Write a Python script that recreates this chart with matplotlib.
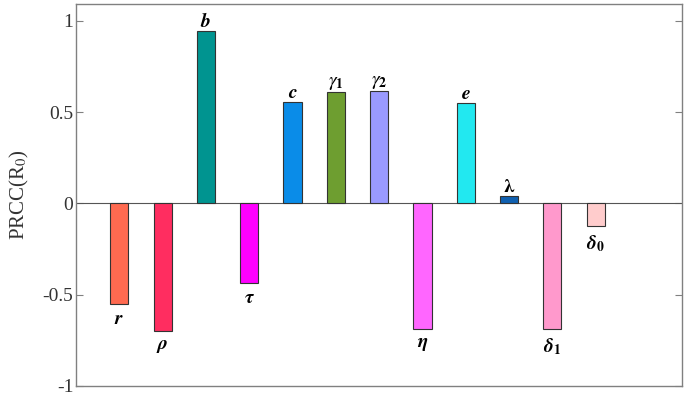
import matplotlib
matplotlib.use("Agg")
import matplotlib.pyplot as plt

plt.rcParams['font.family'] = ['Liberation Serif', 'DejaVu Serif']
plt.rcParams['mathtext.fontset'] = 'stix'
plt.rcParams['axes.unicode_minus'] = False

# PRCC values for each parameter
params = [r'$\boldsymbol{r}$', r'$\boldsymbol{\rho}$', r'$\boldsymbol{b}$', r'$\boldsymbol{\tau}$',
          r'$\boldsymbol{c}$', r'$\gamma_{\mathbf{1}}$', r'$\gamma_{\mathbf{2}}$', r'$\boldsymbol{\eta}$',
          r'$\boldsymbol{e}$', r'$\boldsymbol{\lambda}$', r'$\boldsymbol{\delta}_{\boldsymbol{1}}$',
          r'$\boldsymbol{\delta}_{\boldsymbol{0}}$']
prcc = [-0.55, -0.70, 0.945, -0.435, 0.557, 0.612, 0.617, -0.69, 0.552, 0.04, -0.69, -0.125]
colors = ['#ff6a50', '#ff2d60', '#009490', '#ff00ff', '#0a8ce8', '#6e9e30',
          '#9a9aff', '#ff66ff', '#22e8f0', '#1060b0', '#ff99cc', '#ffcccc']
yticks = [-1, -0.5, 0, 0.5, 1]
yticklabels = ['-1', '-0.5', '0', '0.5', '1']

fig = plt.figure(figsize=(6.85, 3.95), dpi=100)
ax = fig.add_axes([0.111, 0.023, 0.885, 0.967])

xs = list(range(1, len(prcc) + 1))
ax.bar(xs, prcc, width=0.42, color=colors, edgecolor='#333333', linewidth=0.8, zorder=3)
ax.axhline(0, color='#555555', linewidth=0.8, zorder=2)

for x, v, lab in zip(xs, prcc, params):
    if v >= 0:
        ax.annotate(lab, (x, v), xytext=(0, 0), textcoords='offset points',
                    ha='center', va='bottom', fontsize=14)
    else:
        ax.annotate(lab, (x, v), xytext=(0, -5), textcoords='offset points',
                    ha='center', va='top', fontsize=14)

ax.set_xlim(0, 14)
ax.set_ylim(-1, 1.093)
ax.set_xticks([])
ax.set_yticks(yticks)
ax.set_yticklabels(yticklabels, fontsize=14, color='#333333')
ax.tick_params(axis='y', direction='in', length=5, pad=2, color='#808080', right=True, labelright=False)
ax.set_ylabel(r'PRCC(R$_0$)', fontsize=15, labelpad=8, color='#333333')
for s in ax.spines.values():
    s.set_color('#808080')
    s.set_linewidth(1.0)

fig.savefig('out.png', dpi=100)
